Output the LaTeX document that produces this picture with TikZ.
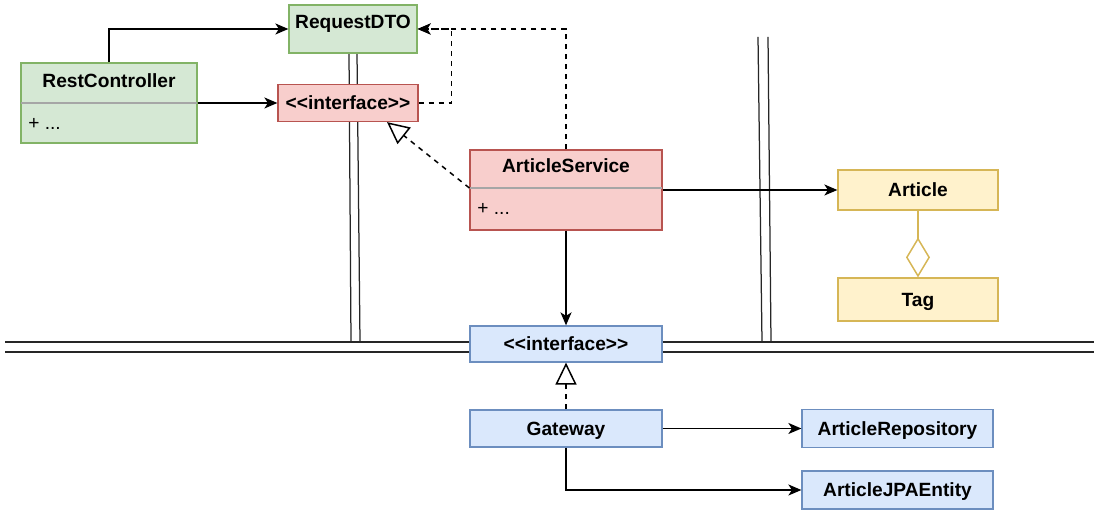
\documentclass[tikz,border=0pt]{standalone}
\usepackage{fontspec}
\setmainfont{Liberation Sans}[Ligatures=TeXOff]
\usetikzlibrary{arrows.meta}

\definecolor{ctrlfill}{HTML}{D5E8D4}
\definecolor{ctrlline}{HTML}{82B366}
\definecolor{svcfill}{HTML}{F8CECC}
\definecolor{svcline}{HTML}{B85450}
\definecolor{gatefill}{HTML}{DAE8FC}
\definecolor{gateline}{HTML}{6C8EBF}
\definecolor{entfill}{HTML}{FFF2CC}
\definecolor{entline}{HTML}{D6B656}
\definecolor{divline}{HTML}{A6A6A6}

\tikzset{
  box/.style={draw, line width=0.025cm, inner sep=0pt, text height=0.28cm, text depth=0pt,
    font=\fontsize{10.9}{13}\selectfont\bfseries},
  ctrlbox/.style={box, draw=ctrlline, fill=ctrlfill},
  svcbox/.style={box, draw=svcline, fill=svcfill},
  gatebox/.style={box, draw=gateline, fill=gatefill},
  entbox/.style={box, draw=entline, fill=entfill},
  title/.style={inner sep=0pt, text height=0.28cm, text depth=0pt, font=\fontsize{10.9}{13}\selectfont\bfseries},
  member/.style={anchor=west, inner sep=0pt, text height=0.28cm, text depth=0pt, font=\fontsize{10.9}{13}\selectfont},
  divider/.style={draw=divline, line width=0.03cm},
  wall/.style={black!85, line width=0.025cm},
  uses/.style={black, line width=0.03cm, -{Stealth[length=0.26cm, width=0.22cm, inset=0.07cm]}},
  depends/.style={uses, dash pattern=on 0.1cm off 0.1cm},
  realizes/.style={black, line width=0.03cm, dash pattern=on 0.1cm off 0.1cm,
    -{Triangle[open, length=0.44cm, width=0.42cm]}},
  aggregates/.style={entline, line width=0.03cm, -{Diamond[open, length=0.8cm, width=0.48cm]}},
}

\begin{document}
\begin{tikzpicture}
    \useasboundingbox (0, 0) rectangle (21.92, 10.2);
    % layer boundaries
    \draw[wall] (0.1, 3.36) -- (21.88, 3.36);
    \draw[wall] (0.1, 3.16) -- (21.88, 3.16);
    \draw[wall] (6.98, 9.14) -- (7.02, 3.36);
    \draw[wall] (7.14, 9.14) -- (7.20, 3.36);
    \draw[wall] (15.16, 9.46) -- (15.24, 3.36);
    \draw[wall] (15.36, 9.46) -- (15.42, 3.36);
    % controller side
    \node[ctrlbox, minimum width=3.52cm, minimum height=1.6cm] (rc) at (2.18, 8.14) {};
    \node[title] (rct) at (2.18, 8.59) {RestController};
    \draw[divider] ([xshift=0.02cm]rc.west) -- ([xshift=-0.02cm]rc.east);
    \node[member] (rcm) at (0.56, 7.74) {+ ...};
    \node[ctrlbox, minimum width=2.56cm, minimum height=0.96cm] (dto) at (7.06, 9.62) {};
    \node[title] (dtot) at (7.06, 9.77) {RequestDTO};
    \node[svcbox, minimum width=2.8cm, minimum height=0.74cm] (ri) at (6.96, 8.14) {<<interface>>};
    % service
    \node[svcbox, minimum width=3.84cm, minimum height=1.6cm] (as) at (11.32, 6.4) {};
    \node[title] (ast) at (11.32, 6.89) {ArticleService};
    \draw[divider] ([xshift=0.02cm, yshift=0.04cm]as.west) -- ([xshift=-0.02cm, yshift=0.04cm]as.east);
    \node[member] (asm) at (9.54, 6.04) {+ ...};
    % entities
    \node[entbox, minimum width=3.2cm, minimum height=0.8cm] (art) at (18.36, 6.4) {Article};
    \node[entbox, minimum width=3.2cm, minimum height=0.86cm] (tag) at (18.36, 4.21) {Tag};
    % gateway side
    \node[gatebox, minimum width=3.84cm, minimum height=0.72cm] (gi) at (11.32, 3.32) {<<interface>>};
    \node[gatebox, minimum width=3.84cm, minimum height=0.74cm] (gw) at (11.32, 1.63) {Gateway};
    \node[gatebox, minimum width=3.82cm, minimum height=0.76cm] (repo) at (17.95, 1.63) {ArticleRepository};
    \node[gatebox, minimum width=3.82cm, minimum height=0.76cm] (jpa) at (17.95, 0.40) {ArticleJPAEntity};
    % connectors
    \draw[uses] (rc.north) |- (dto.west);
    \draw[uses] (rc.east) -- (ri.west);
    \draw[depends] (ri.east) -- ++(0.66, 0) |- (dto.east);
    \draw[depends] (as.north) |- (dto.east);
    \draw[realizes] ([yshift=0.04cm]as.west) -- ([xshift=0.78cm]ri.south);
    \draw[uses] (as.east) -- (art.west);
    \draw[aggregates] (art.south) -- (tag.north);
    \draw[uses] (as.south) -- (gi.north);
    \draw[realizes] (gw.north) -- (gi.south);
    \draw[uses] (gw.east) -- (repo.west);
    \draw[uses] (gw.south) |- (jpa.west);
  \end{tikzpicture}
\end{document}
